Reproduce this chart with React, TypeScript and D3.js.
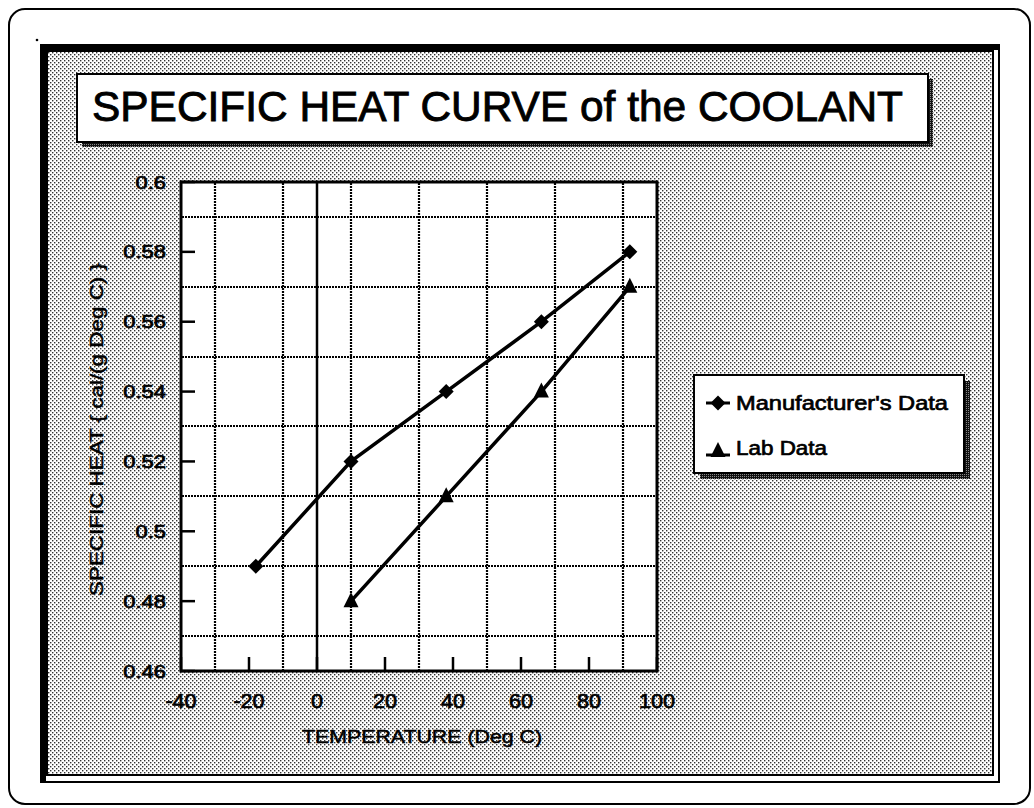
import React from "react";
import * as d3 from "d3";

const xTicks = [-40, -20, 0, 20, 40, 60, 80, 100];
const yTicks = [0.46, 0.48, 0.5, 0.52, 0.54, 0.56, 0.58, 0.6];
const xGrid = [-30, -10, 10, 30, 50, 70, 90];
const yGrid = [0.47, 0.49, 0.51, 0.53, 0.55, 0.57, 0.59];

const tempManufacturer = [-18, 10, 38, 66, 92];
const heatManufacturer = [0.49, 0.52, 0.54, 0.56, 0.58];
const tempLab = [10, 38, 66, 92];
const heatLab = [0.48, 0.51, 0.54, 0.57];

const seriesNames = ["Manufacturer's Data", "Lab Data"];
const titleText = "SPECIFIC HEAT CURVE of the COOLANT";
const xTitle = "TEMPERATURE (Deg C)";
const yTitle = "SPECIFIC HEAT { cal/(g Deg C) }";

const FONT = "'Liberation Sans', Arial, Helvetica, sans-serif";

const diamondPath = "M0,-7.5L7.5,0L0,7.5L-7.5,0Z";
const trianglePath = "M0,-9L7.5,6L-7.5,6Z";

export default function App() {
  const x = d3.scaleLinear().domain([-40, 100]).range([181, 657]);
  const y = d3.scaleLinear().domain([0.46, 0.6]).range([671, 182]);
  const line = d3
    .line<[number, number]>()
    .x((d) => x(d[0]))
    .y((d) => y(d[1]));
  const manuf: [number, number][] = tempManufacturer.map((t, i) => [t, heatManufacturer[i]]);
  const lab: [number, number][] = tempLab.map((t, i) => [t, heatLab[i]]);
  const fmt = (v: number) => String(+v.toFixed(2));
  const txt = { fontFamily: FONT, fill: "#000", stroke: "#000", strokeWidth: 0.7 };

  return (
    <svg
      width={1034}
      height={808}
      style={{ position: "absolute", left: 0, top: 0, background: "#fff" }}
    >
      <defs>
        <pattern id="bgdots" width={4} height={4} patternUnits="userSpaceOnUse">
          <rect width={4} height={4} fill="#fff" />
          <rect x={0} y={0} width={1.4} height={1.4} fill="#333" />
          <rect x={2} y={2} width={1.4} height={1.4} fill="#333" />
        </pattern>
        <pattern id="shadow" width={2} height={2} patternUnits="userSpaceOnUse">
          <rect width={2} height={2} fill="#111" />
          <rect x={0} y={0} width={0.8} height={0.8} fill="#ccc" />
        </pattern>
      </defs>

      {/* outer rounded page frame */}
      <rect x={9} y={9} width={1021} height={795} rx={16} fill="#fff" stroke="#000" strokeWidth={2} />
      <circle cx={37} cy={40} r={1.3} fill="#000" />

      {/* chart frame */}
      <rect x={40} y={44} width={960} height={739} fill="#000" />
      <rect x={46} y={50} width={952} height={731} fill="#fff" />
      <rect x={47} y={51} width={946} height={724} fill="url(#bgdots)" stroke="#000" strokeWidth={2} />

      {/* title box */}
      <rect x={82} y={79} width={851} height={68} fill="url(#shadow)" />
      <rect x={77} y={74} width={851} height={68} fill="#fff" stroke="#000" strokeWidth={2} />
      <text x={92} y={121} {...txt} strokeWidth={0.9} fontSize={42} textLength={811} lengthAdjust="spacingAndGlyphs">
        {titleText}
      </text>

      {/* plot area */}
      <rect x={181} y={182} width={476} height={489} fill="#fff" />
      {xGrid.map((v) => (
        <line key={"gx" + v} x1={Math.round(x(v))} x2={Math.round(x(v))} y1={183} y2={671} stroke="#000" strokeWidth={2.2} strokeDasharray="2,1" />
      ))}
      {yGrid.map((v) => (
        <line key={"gy" + v} x1={182} x2={657} y1={Math.round(y(v))} y2={Math.round(y(v))} stroke="#000" strokeWidth={2.2} strokeDasharray="2,1" />
      ))}
      <line x1={x(0)} x2={x(0)} y1={182} y2={671} stroke="#000" strokeWidth={2.5} />
      {yTicks.map((v) => (
        <line key={"ty" + v} x1={181} x2={195} y1={y(v)} y2={y(v)} stroke="#000" strokeWidth={2.5} />
      ))}
      {xTicks.map((v) => (
        <line key={"tx" + v} x1={x(v)} x2={x(v)} y1={671} y2={657} stroke="#000" strokeWidth={2.5} />
      ))}
      <rect x={181} y={182} width={476} height={489} fill="none" stroke="#000" strokeWidth={3} />

      {/* series */}
      <path d={line(manuf) || ""} fill="none" stroke="#000" strokeWidth={3.5} />
      <path d={line(lab) || ""} fill="none" stroke="#000" strokeWidth={3.5} />
      {manuf.map((d, i) => (
        <path key={"m" + i} d={diamondPath} transform={`translate(${x(d[0])},${y(d[1])})`} fill="#000" />
      ))}
      {lab.map((d, i) => (
        <path key={"l" + i} d={trianglePath} transform={`translate(${x(d[0])},${y(d[1])})`} fill="#000" />
      ))}

      {/* tick labels */}
      {yTicks.map((v) => (
        <text
          key={"ly" + v}
          transform={`translate(166,${y(v) + 6.5}) scale(1.22,1)`}
          textAnchor="end"
          {...txt}
          fontSize={18}
        >
          {fmt(v)}
        </text>
      ))}
      {xTicks.map((v) => (
        <text
          key={"lx" + v}
          transform={`translate(${x(v)},708) scale(1.08,1)`}
          textAnchor="middle"
          {...txt}
          fontSize={20}
        >
          {fmt(v)}
        </text>
      ))}

      {/* axis titles */}
      <text x={302} y={743} {...txt} strokeWidth={0.5} fontSize={18} textLength={240} lengthAdjust="spacingAndGlyphs">
        {xTitle}
      </text>
      <text
        transform="translate(103,596) rotate(-90)"
        {...txt}
        strokeWidth={0.5}
        fontSize={19}
        textLength={333}
        lengthAdjust="spacingAndGlyphs"
      >
        {yTitle}
      </text>

      {/* legend */}
      <rect x={700} y={381} width={270} height={98} fill="url(#shadow)" />
      <rect x={694} y={375} width={270} height={98} fill="#fff" stroke="#000" strokeWidth={2} />
      <line x1={706} x2={730} y1={403} y2={403} stroke="#000" strokeWidth={3} />
      <path d={diamondPath} transform="translate(718,403)" fill="#000" />
      <text x={736} y={410} {...txt} fontSize={20} textLength={212} lengthAdjust="spacingAndGlyphs">
        {seriesNames[0]}
      </text>
      <line x1={706} x2={730} y1={455} y2={455} stroke="#000" strokeWidth={3} />
      <path d={trianglePath} transform="translate(718,451)" fill="#000" />
      <text x={736} y={455} {...txt} fontSize={20} textLength={91} lengthAdjust="spacingAndGlyphs">
        {seriesNames[1]}
      </text>
    </svg>
  );
}
